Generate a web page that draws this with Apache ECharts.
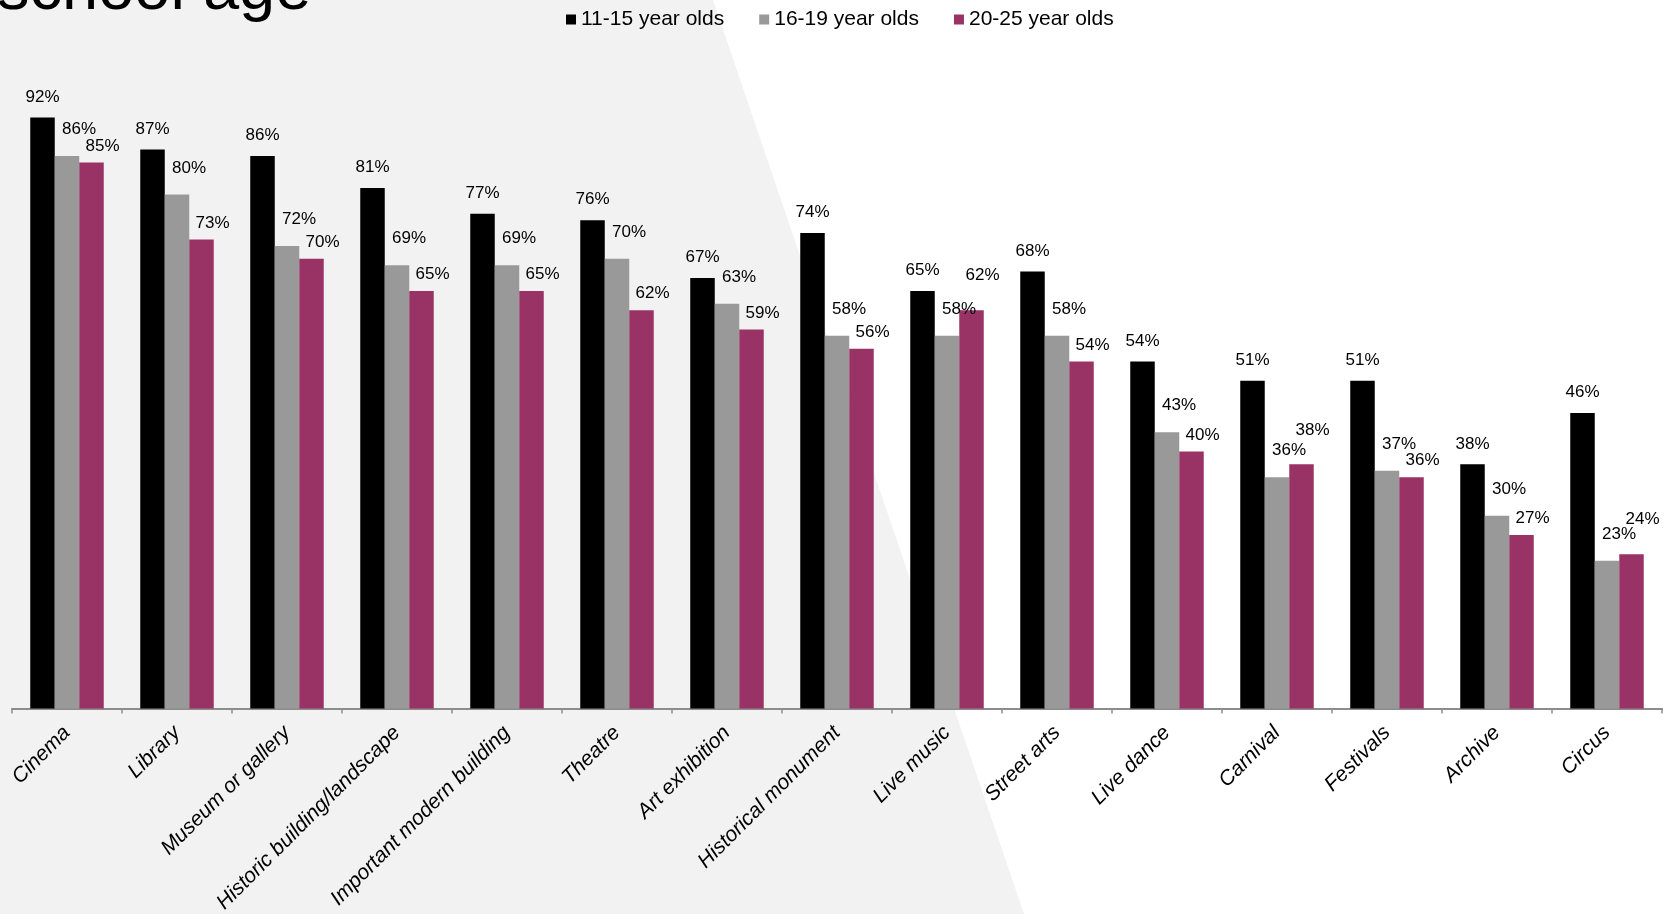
<!DOCTYPE html>
<html>
<head>
<meta charset="utf-8">
<script src="https://cdn.jsdelivr.net/npm/echarts@6/dist/echarts.min.js"></script>
<style>
  html, body { margin: 0; padding: 0; background: #fff; }
  #chart { width: 1673px; height: 914px; }
</style>
</head>
<body>
<div id="chart"></div>
<script>
var categories = [
  "Cinema", "Library", "Museum or gallery", "Historic building/landscape",
  "Important modern building", "Theatre", "Art exhibition", "Historical monument",
  "Live music", "Street arts", "Live dance", "Carnival", "Festivals", "Archive", "Circus"
];
var seriesNames = ["11-15 year olds", "16-19 year olds", "20-25 year olds"];
var age11to15 = [92, 87, 86, 81, 77, 76, 67, 74, 65, 68, 54, 51, 51, 38, 46];
var age16to19 = [86, 80, 72, 69, 69, 70, 63, 58, 58, 58, 43, 36, 37, 30, 23];
var age20to25 = [85, 73, 70, 65, 65, 62, 59, 56, 62, 54, 40, 38, 36, 27, 24];

var fontFamily = "'Liberation Sans', Arial, sans-serif";
var chart = echarts.init(document.getElementById("chart"));

function labelFor(distance, dx) {
  return {
    show: true,
    position: "top",
    distance: distance,
    offset: [dx, 0],
    formatter: "{c}%",
    color: "#000",
    fontSize: 17,
    fontFamily: fontFamily
  };
}

var option = {
  backgroundColor: "#ffffff",
  animation: false,
  graphic: [
    {
      type: "polygon",
      z: -10,
      silent: true,
      shape: { points: [[0, 0], [713, 0], [1024, 914], [0, 914]] },
      style: { fill: "#f2f2f2" }
    },
    {
      type: "text",
      z: 10,
      x: -3,
      y: -9,
      style: {
        text: "school age",
        font: "65px 'Liberation Sans', Arial, sans-serif",
        fill: "#000",
        verticalAlign: "middle"
      }
    }
  ],
  legend: {
    data: seriesNames,
    left: 566,
    top: 9,
    padding: 0,
    itemWidth: 10,
    itemHeight: 10,
    itemGap: 35,
    icon: "rect",
    textStyle: { fontSize: 21, color: "#000", fontFamily: fontFamily }
  },
  grid: {
    left: 12, right: 11, top: 66, bottom: 205.5,
    containLabel: false,
    outerBoundsMode: "none"
  },
  xAxis: {
    type: "category",
    data: categories,
    axisLine: { lineStyle: { color: "#8c8c8c", width: 2 } },
    axisTick: { show: true, length: 5, lineStyle: { color: "#8c8c8c", width: 1.5 } },
    axisLabel: {
      rotate: 45,
      interval: 0,
      margin: 21,
      fontSize: 21,
      fontStyle: "italic",
      color: "#000",
      fontFamily: fontFamily
    }
  },
  yAxis: { type: "value", min: 0, max: 100, show: false, splitLine: { show: false } },
  series: [
    {
      name: seriesNames[0],
      type: "bar",
      data: age11to15,
      barWidth: 24.5,
      barGap: "0%",
      itemStyle: { color: "#000000" },
      label: labelFor(12, 0)
    },
    {
      name: seriesNames[1],
      type: "bar",
      data: age16to19,
      barWidth: 24.5,
      barGap: "0%",
      itemStyle: { color: "#999999" },
      label: labelFor(18, 12)
    },
    {
      name: seriesNames[2],
      type: "bar",
      data: age20to25,
      barWidth: 24.5,
      barGap: "0%",
      itemStyle: { color: "#993366" },
      label: labelFor(8, 0),
      // lift the label when it would collide with the 16-19 label
      labelLayout: function (params) {
        var i = params.dataIndex;
        return { dx: 11, dy: age20to25[i] >= age16to19[i] ? -18 : 0 };
      }
    }
  ]
};

chart.setOption(option);
</script>
</body>
</html>
